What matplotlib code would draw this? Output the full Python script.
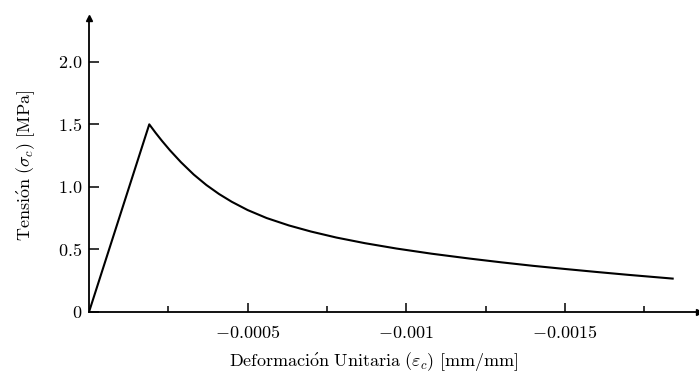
import numpy as np
import matplotlib
matplotlib.use('Agg')
import matplotlib.pyplot as plt

plt.rcParams['mathtext.fontset'] = 'cm'
plt.rcParams['font.family'] = 'serif'
plt.rcParams['font.serif'] = ['cmr10', 'DejaVu Serif']
plt.rcParams['axes.formatter.use_mathtext'] = True

# curva tensión-deformación del concreto en tracción (rama lineal + ablandamiento)
deformacion = [0, -0.00019, -0.00021, -0.00023, -0.000255, -0.00029, -0.00033, -0.00037,
               -0.00041, -0.00045, -0.0005, -0.00056, -0.00063, -0.0007, -0.00078,
               -0.00087, -0.00097, -0.00108, -0.0012, -0.0013, -0.0014, -0.0015,
               -0.0016, -0.0017, -0.00184]
tension = [0, 1.50, 1.432, 1.368, 1.293, 1.197, 1.099, 1.015,
           0.943, 0.881, 0.815, 0.751, 0.692, 0.643, 0.595,
           0.55, 0.507, 0.466, 0.427, 0.397, 0.369, 0.344,
           0.32, 0.297, 0.267]

xticks_major = [-0.0005, -0.001, -0.0015]
xtick_labels = [r'$-0.0005$', r'$-0.001$', r'$-0.0015$']
xticks_minor = [-0.00025, -0.00075, -0.00125, -0.00175]
yticks = [0, 0.5, 1.0, 1.5, 2.0]
ytick_labels = [r'$0$', r'$0.5$', r'$1.0$', r'$1.5$', r'$2.0$']

fig = plt.figure(figsize=(6.99, 3.79), dpi=100)
ax = fig.add_axes([89/699, 67/379, 610/699, 294/379])

ax.plot(deformacion, tension, color='black', linewidth=1.5, solid_joinstyle='round')

ax.set_xlim(0, -0.001923)
ax.set_ylim(0, 2.35)

for s in ['top', 'right']:
    ax.spines[s].set_visible(False)
for s in ['left', 'bottom']:
    ax.spines[s].set_linewidth(1.3)

# flechas en los extremos de los ejes
ax.plot(1, 0, '>k', markersize=5, transform=ax.get_yaxis_transform(), clip_on=False)
ax.plot(0, 1, '^k', markersize=5, transform=ax.get_xaxis_transform(), clip_on=False)

ax.set_xticks(xticks_major)
ax.set_xticklabels(xtick_labels)
ax.set_xticks(xticks_minor, minor=True)
ax.set_yticks(yticks)
ax.set_yticklabels(ytick_labels)

ax.tick_params(axis='x', which='major', direction='in', length=6.5, width=1.1, pad=9, labelsize=13)
ax.tick_params(axis='x', which='minor', direction='in', length=4.5, width=1.1)
ax.tick_params(axis='y', which='major', direction='in', length=7, width=1.1, pad=5, labelsize=13)

ax.set_xlabel(r'$\mathrm{Deformaci\acute{o}n\ Unitaria}\ (\varepsilon_c)\ [\mathrm{mm/mm}]$', fontsize=13)
ax.xaxis.set_label_coords(0.467, -0.13)
ax.set_ylabel(r'$\mathrm{Tensi\acute{o}n}\ (\sigma_c)\ [\mathrm{MPa}]$', fontsize=13)
ax.yaxis.set_label_coords(-0.085, 0.5)

fig.savefig('out.png', dpi=100)
